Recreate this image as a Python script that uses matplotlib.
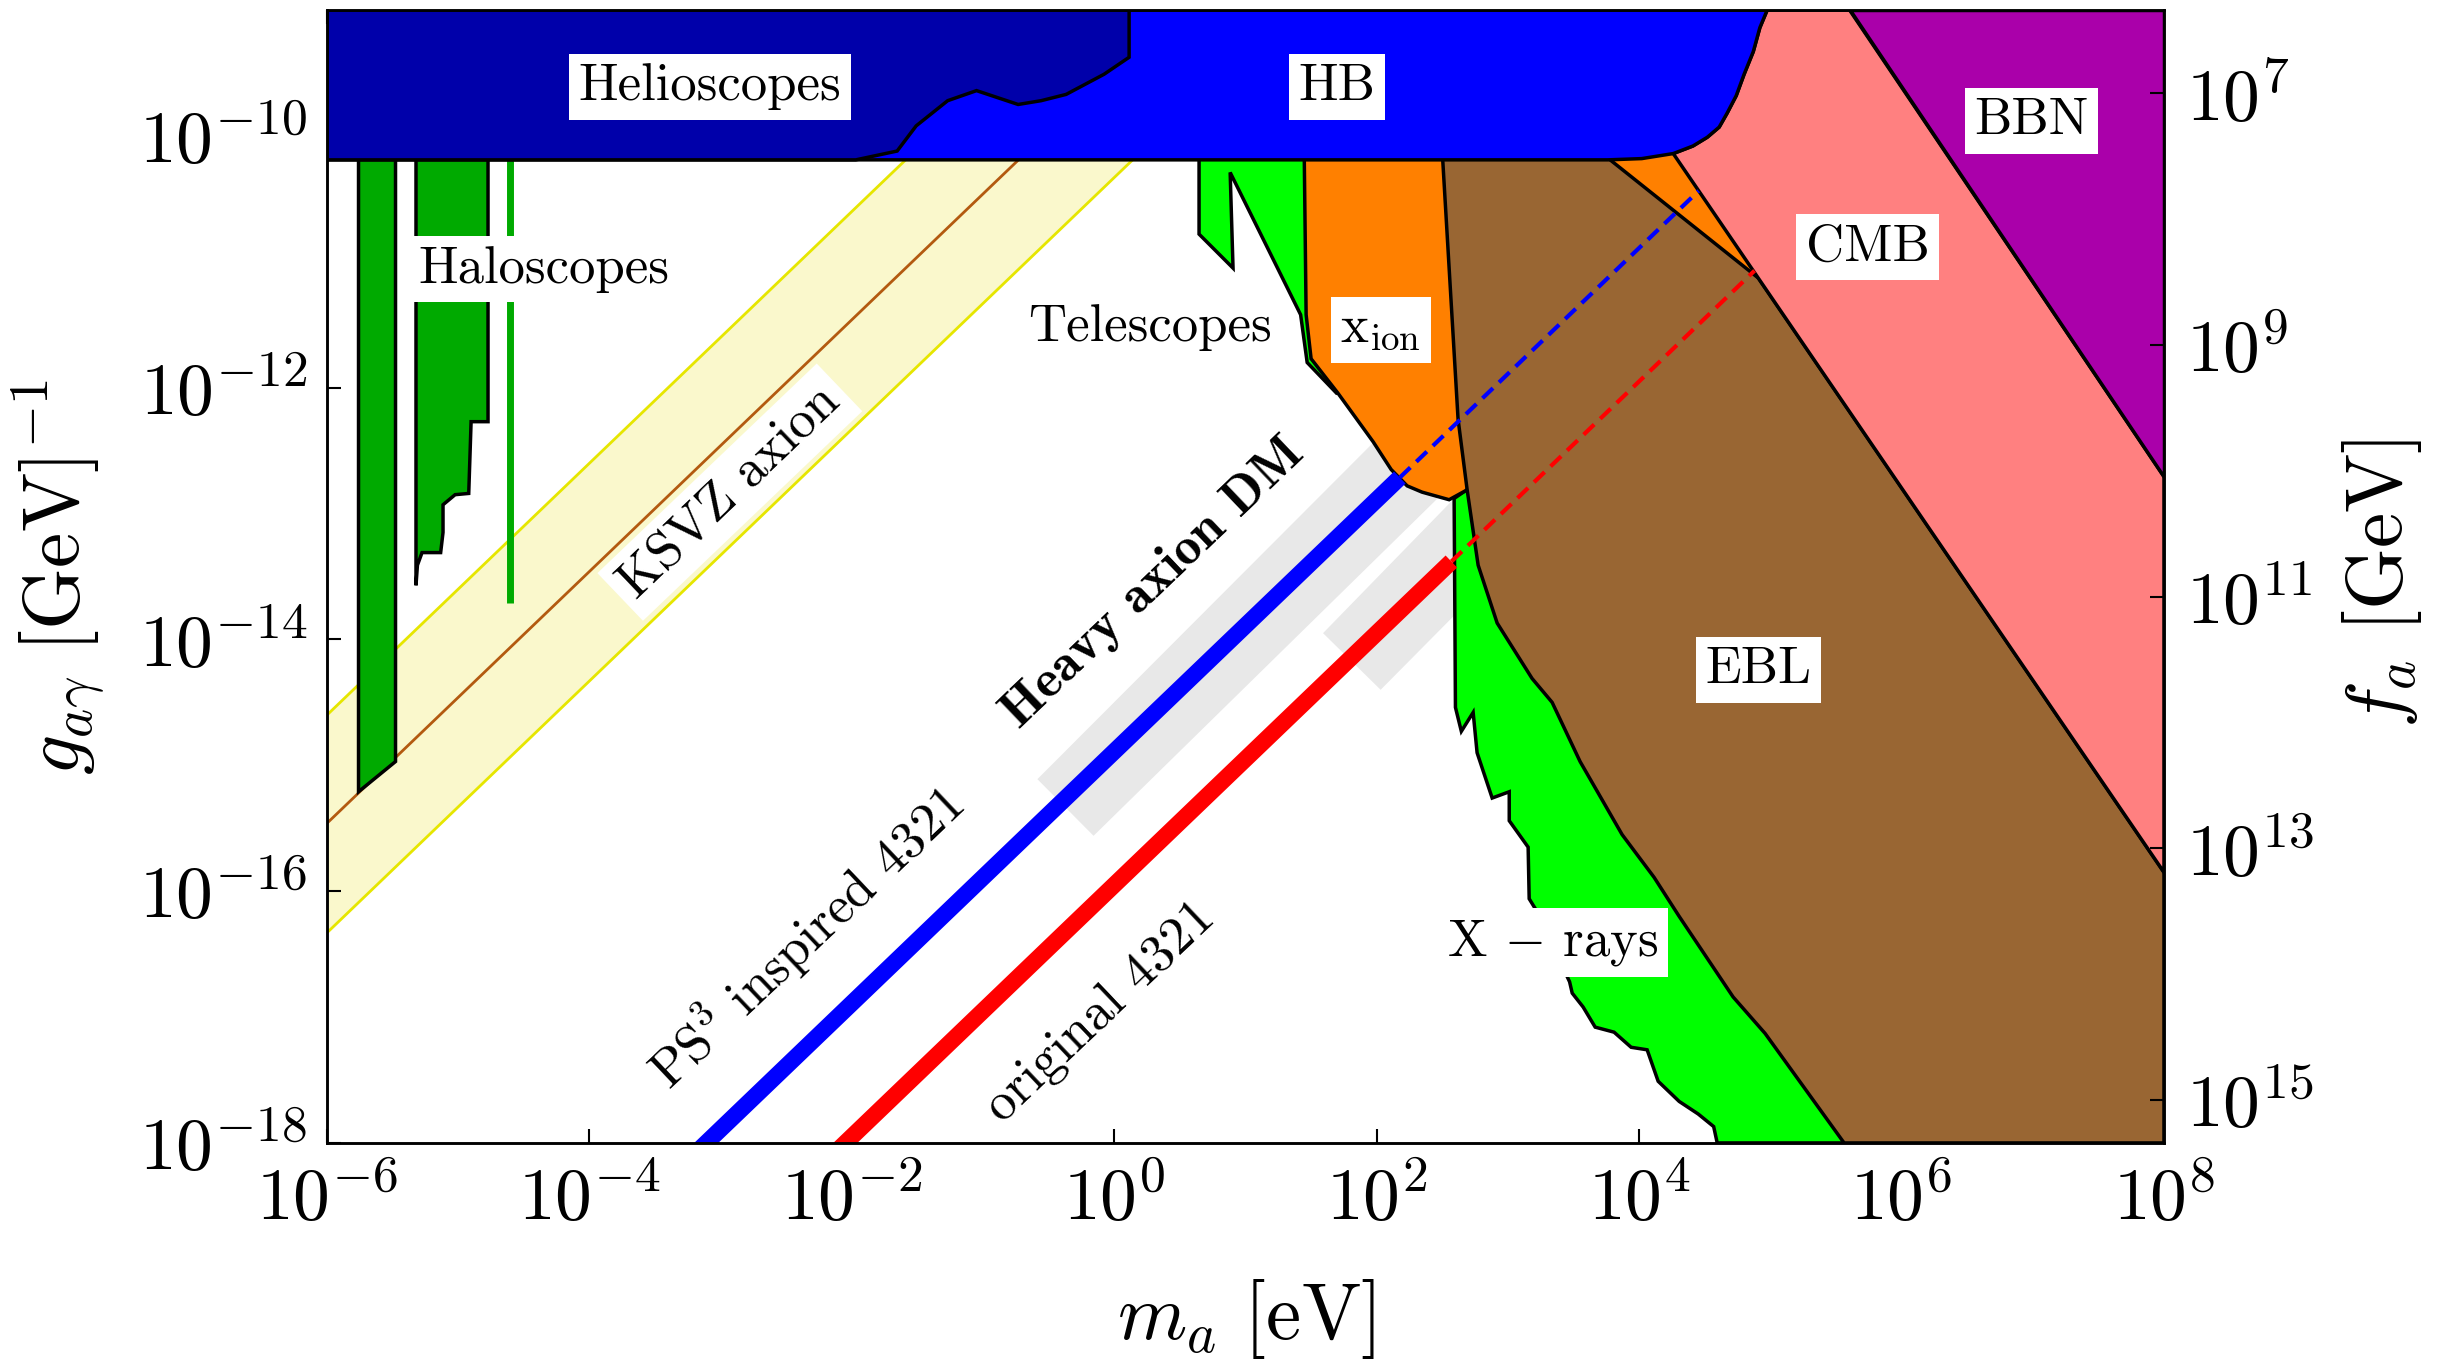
import numpy as np
import matplotlib.pyplot as plt
from matplotlib.ticker import FixedLocator, FuncFormatter, NullLocator

plt.rcParams['font.family'] = 'serif'
plt.rcParams['font.serif'] = ['cmr10']
plt.rcParams['mathtext.fontset'] = 'cm'
plt.rcParams['axes.unicode_minus'] = False

# every bound below is log10(m_a / eV) vs log10(g_ag / GeV^-1)
helio_logm = [-6.0, -1.97, -1.655, -1.51, -1.27, -1.05, -0.733, -0.558, -0.367, -0.078, 0.113, 0.113, -6.0]
helio_logg = [-10.19, -10.19, -10.12, -9.92, -9.72, -9.64, -9.75, -9.72, -9.67, -9.51, -9.375, -9.0, -9.0]

hb_logm = [-6.0, 3.76, 4.02, 4.26, 4.41, 4.52, 4.61, 4.67, 4.74, 4.80, 4.87, 4.92, 4.976, -6.0]
hb_logg = [-10.19, -10.19, -10.18, -10.14, -10.08, -10.01, -9.93, -9.82, -9.68, -9.51, -9.33, -9.14, -9.0, -9.0]

cmb_logm = [4.26, 4.41, 4.52, 4.61, 4.67, 4.74, 4.80, 4.87, 4.92, 4.976, 5.604, 8.0, 8.0]
cmb_logg = [-10.14, -10.08, -10.01, -9.93, -9.82, -9.68, -9.51, -9.33, -9.14, -9.0, -9.0, -12.706, -15.85]

bbn_logm = [5.604, 8.0, 8.0]
bbn_logg = [-9.0, -9.0, -12.706]

ebl_logm = [2.498, 2.62, 2.689, 2.773, 2.918, 3.184, 3.337, 3.55, 3.87, 4.114, 4.305, 4.716, 4.96,
            5.562, 8.0, 8.0, 4.91, 3.779, 3.70]
ebl_logg = [-10.1, -12.25, -12.81, -13.41, -13.87, -14.31, -14.50, -14.97, -15.55, -15.89, -16.20, -16.84, -17.13,
            -18.0, -18.0, -15.85, -11.13, -10.19, -10.1]

xion_logm = [1.447, 1.462, 1.50, 1.702, 1.973, 2.11, 2.232, 2.346, 2.552, 2.674, 4.91, 4.30]
xion_logg = [-10.1, -11.42, -11.77, -12.04, -12.43, -12.65, -12.78, -12.83, -12.89, -12.82, -11.13, -10.1]

telescope_logm = [0.646, 0.646, 0.905, 0.883, 1.42, 1.47, 1.70, 1.60, 1.50]
telescope_logg = [-10.1, -10.78, -11.05, -10.29, -11.42, -11.80, -12.05, -11.5, -10.1]

xray_logm = [2.59, 2.60, 2.645, 2.735, 2.765, 2.88, 3.01, 3.01, 3.154, 3.162, 3.215, 3.47, 3.49, 3.573,
             3.665, 3.809, 3.939, 4.061, 4.145, 4.305, 4.45, 4.568, 4.595, 5.6, 2.75, 2.674]
xray_logg = [-12.88, -14.54, -14.73, -14.58, -14.90, -15.26, -15.21, -15.44, -15.65, -16.06, -16.15, -16.72,
             -16.81, -16.92, -17.08, -17.12, -17.24, -17.26, -17.51, -17.67, -17.77, -17.87, -18.0, -18.0,
             -12.5, -12.82]

halo1_logm = [-5.76, -5.76, -5.478, -5.478]
halo1_logg = [-10.1, -15.21, -14.97, -10.1]
halo2_logm = [-4.773, -4.773, -4.902, -4.920, -5.024, -5.116, -5.116, -5.134, -5.276, -5.311, -5.322, -5.322]
halo2_logg = [-10.1, -12.27, -12.27, -12.84, -12.85, -12.93, -13.15, -13.31, -13.31, -13.41, -13.57, -10.1]
halo3_logm = [-4.605, -4.605]
halo3_logg = [-10.19, -13.71]

ksvz_logm = [-6.0, 0.5]
ksvz_mid_logg = [-15.46, -8.96]
ksvz_up_logg = [-14.60, -8.10]
ksvz_lo_logg = [-16.33, -9.83]

band1_logm = [-0.586, -0.158, 2.63, 2.20]
band1_logg = [-15.11, -15.56, -12.71, -12.20]
band2_logm = [1.591, 2.030, 2.60, 2.60]
band2_logg = [-13.95, -14.40, -13.80, -12.87]

ps3_logm = [-3.3, 2.176]
ps3_logg = [-18.19, -12.714]
ps3_dash_logm = [2.176, 4.454]
ps3_dash_logg = [-12.714, -10.436]
orig_logm = [-2.2, 2.569]
orig_logg = [-18.15, -13.381]
orig_dash_logm = [2.569, 4.88]
orig_dash_logg = [-13.381, -11.07]

fa_const = 10**-2.66
fa_ticks = [1e7, 1e9, 1e11, 1e13, 1e15]


def p(v):
    return 10**np.asarray(v, dtype=float)


fig = plt.figure(figsize=(24.46, 13.6), dpi=100)
ax = fig.add_axes([0.1337, 0.1596, 0.751, 0.833])
ax.set_xscale('log')
ax.set_yscale('log')
ax.set_xlim(1e-6, 1e8)
ax.set_ylim(1e-18, 1e-9)


def region(lm, lg, color, z):
    ax.fill(p(lm), p(lg), fc=color, ec='k', lw=2.5, zorder=z)


# KSVZ band
ax.fill_between(p(ksvz_logm), p(ksvz_lo_logg), p(ksvz_up_logg), color='#faf8cc', lw=0, zorder=1)
ax.plot(p(ksvz_logm), p(ksvz_up_logg), color='#e6e600', lw=2, zorder=1.1)
ax.plot(p(ksvz_logm), p(ksvz_lo_logg), color='#e6e600', lw=2, zorder=1.1)
ax.plot(p(ksvz_logm), p(ksvz_mid_logg), color='#b35a10', lw=2, zorder=1.1)

# grey bands along the heavy axion lines
ax.fill(p(band1_logm), p(band1_logg), fc='#e8e8e8', ec='none', zorder=1.2)
ax.fill(p(band2_logm), p(band2_logg), fc='#e8e8e8', ec='none', zorder=1.2)

# haloscopes
region(halo1_logm, halo1_logg, '#00aa00', 2)
region(halo2_logm, halo2_logg, '#00aa00', 2)
ax.plot(p(halo3_logm), p(halo3_logg), color='#00aa00', lw=5, solid_capstyle='butt', zorder=2)

region(xray_logm, xray_logg, '#00ff00', 2)
region(telescope_logm, telescope_logg, '#00ff00', 2)
region(xion_logm, xion_logg, '#ff8000', 3)
region(ebl_logm, ebl_logg, '#996633', 4)
region(cmb_logm, cmb_logg, '#ff8080', 4)
region(bbn_logm, bbn_logg, '#aa00aa', 4)
region(hb_logm, hb_logg, '#0000ff', 5)
region(helio_logm, helio_logg, '#0000aa', 6)

# heavy axion predictions
ax.plot(p(ps3_logm), p(ps3_logg), color='#0000ff', lw=12, solid_capstyle='butt', zorder=7)
ax.plot(p(ps3_dash_logm), p(ps3_dash_logg), color='#0000ff', lw=3, dashes=(3.5, 2), zorder=7)
ax.plot(p(orig_logm), p(orig_logg), color='#ff0000', lw=12, solid_capstyle='butt', zorder=7)
ax.plot(p(orig_dash_logm), p(orig_dash_logg), color='#ff0000', lw=3, dashes=(3.5, 2), zorder=7)

box = dict(facecolor='white', edgecolor='none', pad=7)


def label(lm, lg, s, rot=0, boxed=True, **kw):
    ax.text(10**lm, 10**lg, s, fontsize=38, rotation=rot, rotation_mode='anchor',
            ha='center', va='center', bbox=box if boxed else None, zorder=10, **kw)


label(-3.08, -9.61, 'Helioscopes')
label(1.70, -9.61, 'HB')
label(6.99, -9.88, 'BBN')
label(5.74, -10.88, 'CMB')
label(-4.35, -11.06, 'Haloscopes')
label(0.27, -11.52, 'Telescopes')
label(2.03, -11.54, r'x$_{\rm ion}$')
label(4.91, -14.24, 'EBL')
label(3.34, -16.41, r'X $-$ rays')
label(-2.93, -12.83, 'KSVZ axion', rot=43.7)
label(0.30, -13.55, 'Heavy axion DM', rot=43.7, boxed=False, family='cmb10')
label(-2.35, -16.36, r'PS$^3$ inspired 4321', rot=43.5, boxed=False)
label(-0.10, -16.97, 'original 4321', rot=43.5, boxed=False)

pow_fmt = FuncFormatter(lambda v, pos: r'$10^{%d}$' % int(round(np.log10(v))))

ax.xaxis.set_major_locator(FixedLocator([10.0**k for k in range(-6, 9, 2)]))
ax.yaxis.set_major_locator(FixedLocator([10.0**k for k in range(-18, -9, 2)]))
ax.xaxis.set_minor_locator(NullLocator())
ax.yaxis.set_minor_locator(NullLocator())
ax.xaxis.set_major_formatter(pow_fmt)
ax.yaxis.set_major_formatter(pow_fmt)
ax.tick_params(which='major', direction='in', length=10, width=1.5, labelsize=53,
               top=True, right=False)
ax.tick_params(axis='x', pad=16)
ax.tick_params(axis='y', pad=14)

# f_a scale on the right, running opposite to the coupling
ax2 = ax.twinx()
ax2.set_yscale('log')
ax2.set_ylim(fa_const / 1e-18, fa_const / 1e-9)
ax2.yaxis.set_major_locator(FixedLocator(fa_ticks))
ax2.yaxis.set_minor_locator(NullLocator())
ax2.yaxis.set_major_formatter(pow_fmt)
ax2.tick_params(which='major', direction='in', length=10, width=1.5, labelsize=53, pad=16)

for a in (ax, ax2):
    for s in a.spines.values():
        s.set_linewidth(1.8)
        s.set_zorder(20)

ax.set_xlabel(r'$m_a\ [\mathrm{eV}]$', fontsize=57)
ax.xaxis.set_label_coords(0.5, -0.118)
ax.set_ylabel(r'$g_{a\gamma}\ [\mathrm{GeV}]^{-1}$', fontsize=57)
ax.yaxis.set_label_coords(-0.12, 0.5)
ax2.set_ylabel(r'$f_a\ [\mathrm{GeV}]$', fontsize=57)
ax2.yaxis.set_label_coords(1.096, 0.494)

fig.savefig('out.png', dpi=100)
